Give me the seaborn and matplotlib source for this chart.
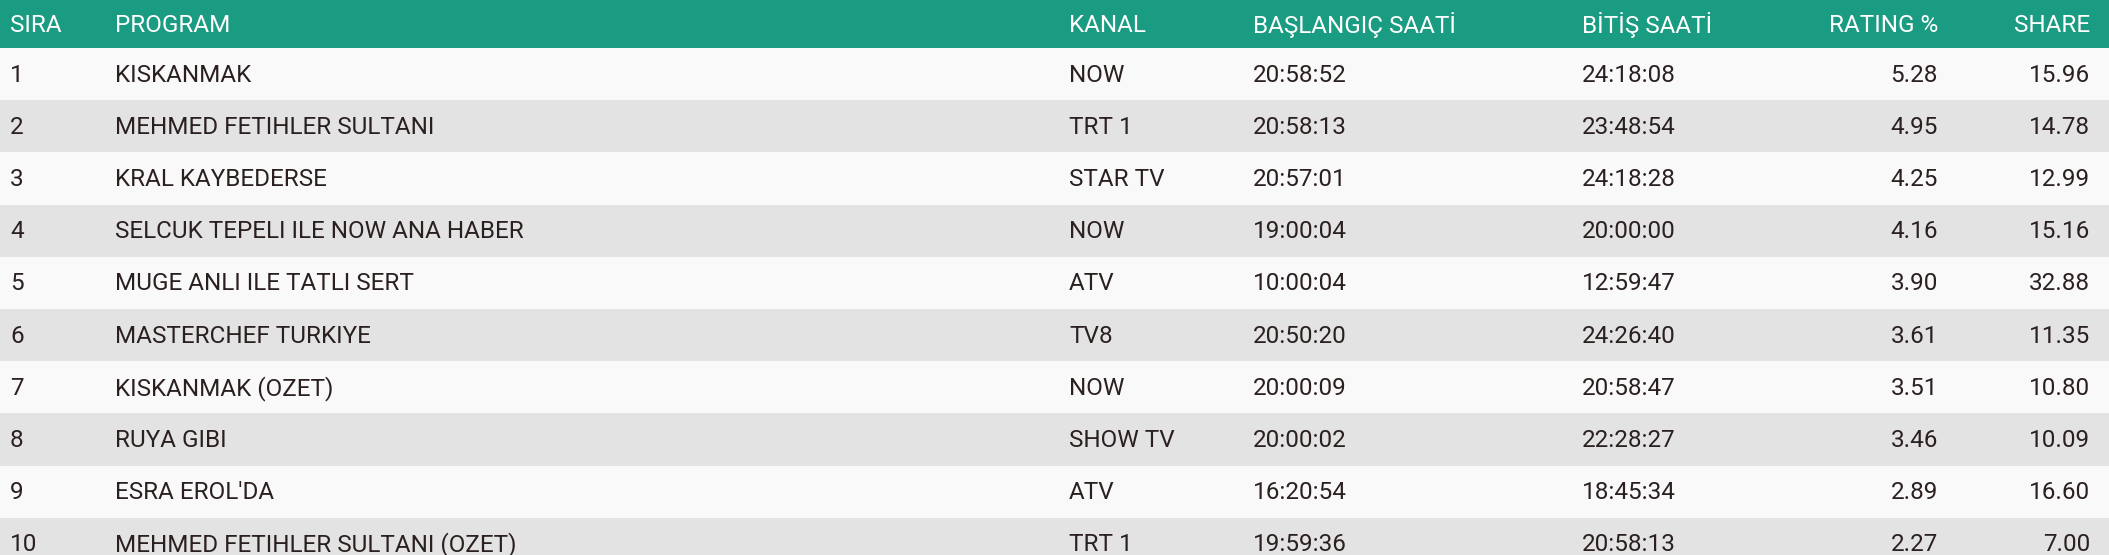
import matplotlib
matplotlib.use("Agg")
import matplotlib.pyplot as plt
import seaborn as sns
from matplotlib import font_manager

sns.set_theme(style="white")
names = {f.name for f in font_manager.fontManager.ttflist}
fam = "Liberation Sans Narrow" if "Liberation Sans Narrow" in names else "Roboto"
plt.rcParams['font.family'] = [fam, 'DejaVu Sans']

headers = ["SIRA", "PROGRAM", "KANAL", "BAŞLANGIÇ SAATİ", "BİTİŞ SAATİ", "RATING %", "SHARE"]
sira = [str(i) for i in range(1, 11)]
program = ["KISKANMAK", "MEHMED FETIHLER SULTANI", "KRAL KAYBEDERSE", "SELCUK TEPELI ILE NOW ANA HABER",
           "MUGE ANLI ILE TATLI SERT", "MASTERCHEF TURKIYE", "KISKANMAK (OZET)", "RUYA GIBI",
           "ESRA EROL'DA", "MEHMED FETIHLER SULTANI (OZET)"]
kanal = ["NOW", "TRT 1", "STAR TV", "NOW", "ATV", "TV8", "NOW", "SHOW TV", "ATV", "TRT 1"]
baslangic = ["20:58:52", "20:58:13", "20:57:01", "19:00:04", "10:00:04", "20:50:20", "20:00:09",
             "20:00:02", "16:20:54", "19:59:36"]
bitis = ["24:18:08", "23:48:54", "24:18:28", "20:00:00", "12:59:47", "24:26:40", "20:58:47",
         "22:28:27", "18:45:34", "20:58:13"]
rating = [5.28, 4.95, 4.25, 4.16, 3.90, 3.61, 3.51, 3.46, 2.89, 2.27]
share = [15.96, 14.78, 12.99, 15.16, 32.88, 11.35, 10.80, 10.09, 16.60, 7.00]

W, H = 2109, 555
fig = plt.figure(figsize=(W/100, H/100), dpi=100)
ax = fig.add_axes([0, 0, 1, 1])
ax.set_xlim(0, W); ax.set_ylim(H, 0); ax.axis("off")

head_h, row_h = 48, 52.2
col_x = [10, 115, 1069, 1253, 1582, 1938, 2090]
col_ha = ["left", "left", "left", "left", "left", "right", "right"]
head_x = [10, 115, 1069, 1253, 1582, 1938, 2090]

ax.axhspan(0, head_h, color="#1a9c82", lw=0)
for j, h in enumerate(headers):
    ax.text(head_x[j], head_h/2 + 1, h, ha=col_ha[j], va="center", color="white", fontsize=17.5)

cols = [sira, program, kanal, baslangic, bitis, [f"{v:.2f}" for v in rating], [f"{v:.2f}" for v in share]]
for i in range(len(sira)):
    top = head_h + i*row_h
    ax.axhspan(top, top + row_h, color="#f9f9f9" if i % 2 == 0 else "#e3e3e3", lw=0)
    for j, c in enumerate(cols):
        ax.text(col_x[j], top + row_h/2 + 1, c[i], ha=col_ha[j], va="center", color="#2b2020", fontsize=17.5)

fig.savefig("out.png", dpi=100)
